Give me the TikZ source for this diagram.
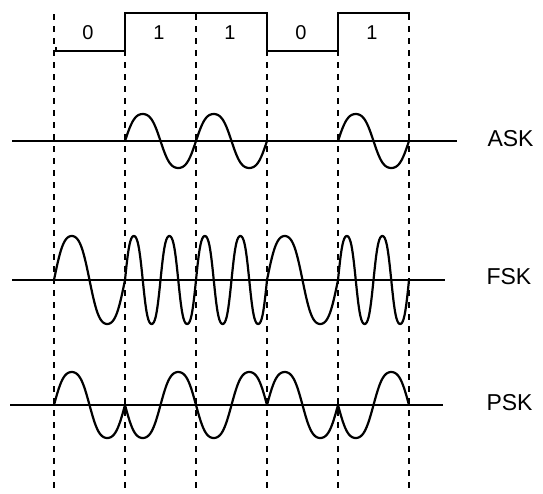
\documentclass[tikz,border=0pt]{standalone}
\usepackage{fontspec}
\setmainfont{Liberation Sans}
\usetikzlibrary{positioning}
\tikzset{
  guide/.style={draw=black,line width=1.3pt,dash pattern=on 6pt off 6pt},
  axisline/.style={draw=black,line width=1.3pt},
  wave/.style={draw=black,line width=2.2pt,smooth},
  bitlabel/.style={font=\fontsize{20}{20}\selectfont},
  modlabel/.style={font=\fontsize{23}{23}\selectfont,anchor=west},
}
\pgfmathdeclarefunction{arch}{1}{\pgfmathparse{(sin(#1)+0.06*sin(3*#1))/0.94}}

\begin{document}
\begin{tikzpicture}[x=1pt,y=-1pt]
  \useasboundingbox (0,0) rectangle (543,493);
  \foreach \k in {0,...,5} \draw[guide] ({54+71*\k},14) -- ({54+71*\k},492);
  \draw[axisline] (56,47) -- (56,51) -- (125,51) -- (125,13) -- (267,13) -- (267,51)
    -- (338,51) -- (338,13) -- (409,13) -- (409,17);
  \foreach \b [count=\i from 0] in {0,1,1,0,1}
    \node[bitlabel] (bit\i) at ({88+71*\i},33) {\b};
  \draw[axisline] (12,141) -- (457,141);
  \node[modlabel] (ask) at (484,139) {ASK};
  \draw[axisline] (12,280) -- (445,280);
  \node[modlabel] (fsk) at (483,277) {FSK};
  \draw[axisline] (10,405) -- (443,405);
  \node[modlabel] (psk) at (483,403) {PSK};
  \foreach \k in {1,2,4}
    \draw[wave] plot[domain=0:1,samples=50] ({54+71*\k+71*\x},{141-27*arch(360*\x)});
  \foreach \n [count=\k from 0] in {1,2,2,1,2}
    \draw[wave] plot[domain=0:1,samples=80] ({54+71*\k+71*\x},{280-44*arch(360*\n*\x)});
  \foreach \s [count=\k from 0] in {1,-1,-1,1,-1}
    \draw[wave] plot[domain=0:1,samples=60] ({54+71*\k+71*\x},{405-33*(\s)*arch(360*\x)});
\end{tikzpicture}
\end{document}
